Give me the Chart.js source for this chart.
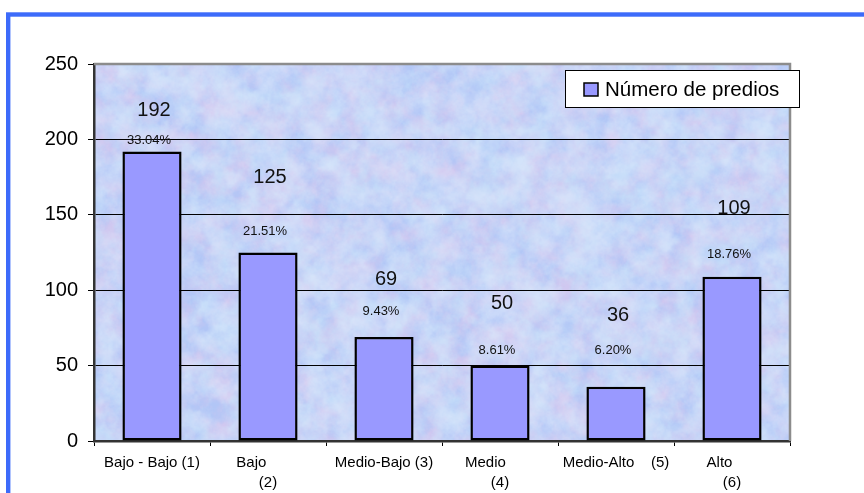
<!DOCTYPE html>
<html>
<head>
<meta charset="utf-8">
<script src="https://cdn.jsdelivr.net/npm/chart.js@4"></script>
<style>
  body { margin: 0; background: #fff; }
  #wrap { width: 864px; height: 493px; }
</style>
</head>
<body>
<div id="wrap"><canvas id="chart" width="864" height="493"></canvas></div>
<script>
// data
const categories = [
  "Bajo - Bajo (1)",
  ["Bajo        ", "(2)"],
  "Medio-Bajo (3)",
  ["Medio       ", "(4)"],
  "Medio-Alto    (5)",
  ["Alto      ", "(6)"]
];
const predios = [192, 125, 69, 50, 36, 109];
const percentLabels = ["33.04%", "21.51%", "9.43%", "8.61%", "6.20%", "18.76%"];
const yTicks = [0, 50, 100, 150, 200, 250];

// where the hand-placed labels sit, in axis units
const valueLabelY = [219, 175, 107, 91, 83, 154];
const pctLabelY = [199, 139, 86, 60, 60, 124];

const FONT = "'Liberation Sans', Arial, sans-serif";

// pastel marble texture for the plot area
function hash(x, y) {
  const h = Math.sin(x * 127.1 + y * 311.7) * 43758.5453;
  return h - Math.floor(h);
}
function vnoise(x, y) {
  const xi = Math.floor(x), yi = Math.floor(y);
  const xf = x - xi, yf = y - yi;
  const u = xf * xf * (3 - 2 * xf), v = yf * yf * (3 - 2 * yf);
  const a = hash(xi, yi), b = hash(xi + 1, yi);
  const c = hash(xi, yi + 1), d = hash(xi + 1, yi + 1);
  return a + (b - a) * u + (c - a) * v + (a - b - c + d) * u * v;
}
function fbm(x, y, seed) {
  let s = 0, amp = 0.5, f = 1 / 16;
  for (let o = 0; o < 4; o++) {
    s += amp * vnoise(x * f + seed, y * f - seed);
    amp *= 0.55; f *= 2.2;
  }
  return s / 0.95;
}
let texture = null;
function makeTexture(w, h) {
  const c = document.createElement("canvas");
  c.width = w; c.height = h;
  const g = c.getContext("2d");
  const img = g.createImageData(w, h);
  const blue = [178, 198, 246], pink = [216, 200, 238], cyan = [200, 230, 250], light = [226, 236, 252];
  for (let y = 0; y < h; y++) {
    for (let x = 0; x < w; x++) {
      const t1 = Math.min(1, Math.max(0, (fbm(x, y, 3.7) - 0.3) * 1.8));
      const t2 = Math.min(1, Math.max(0, (fbm(x, y, 17.3) - 0.3) * 1.8));
      const t3 = Math.min(1, Math.max(0, (fbm(x, y, 41.1) - 0.35) * 2));
      const i = (y * w + x) * 4;
      for (let k = 0; k < 3; k++) {
        let col = blue[k] + (pink[k] - blue[k]) * t1 * 0.8;
        col = col + (cyan[k] - col) * t3 * 0.6;
        col = col + (light[k] - col) * t2 * 0.5;
        img.data[i + k] = col;
      }
      img.data[i + 3] = 255;
    }
  }
  g.putImageData(img, 0, 0);
  return c;
}

const backdrop = {
  id: "backdrop",
  beforeDraw(chart) {
    const ctx = chart.ctx;
    const a = chart.chartArea;
    ctx.save();
    ctx.fillStyle = "#fff";
    ctx.fillRect(0, 0, chart.width, chart.height);
    // blue frame
    ctx.strokeStyle = "#3d6bfa";
    ctx.lineWidth = 4.4;
    ctx.strokeRect(8.2, 14.5, chart.width + 20, chart.height + 20);
    if (!texture) texture = makeTexture(Math.round(a.width), Math.round(a.height));
    ctx.drawImage(texture, a.left, a.top, a.width, a.height);
    ctx.restore();
  },
  afterDraw(chart) {
    const ctx = chart.ctx;
    const a = chart.chartArea;
    ctx.save();
    // top and right edge of plot area
    ctx.strokeStyle = "#8c8c8c";
    ctx.lineWidth = 2.5;
    ctx.beginPath();
    ctx.moveTo(a.left, a.top);
    ctx.lineTo(a.right, a.top);
    ctx.lineTo(a.right, a.bottom);
    ctx.stroke();
    // legend box
    const bx = a.right - 225, by = a.top + 6, bw = 234, bh = 37;
    ctx.fillStyle = "#fff";
    ctx.fillRect(bx, by, bw, bh);
    ctx.strokeStyle = "#000";
    ctx.lineWidth = 1;
    ctx.strokeRect(bx + 0.5, by + 0.5, bw, bh);
    ctx.fillStyle = "#9999ff";
    ctx.fillRect(bx + 19, by + 13, 14, 13);
    ctx.lineWidth = 1.5;
    ctx.strokeRect(bx + 19, by + 13, 14, 13);
    ctx.fillStyle = "#000";
    ctx.font = "20.5px " + FONT;
    ctx.textAlign = "left";
    ctx.textBaseline = "middle";
    ctx.fillText("Número de predios", bx + 40, by + 20);
    ctx.restore();
  },
  afterDatasetsDraw(chart) {
    const ctx = chart.ctx;
    const xs = chart.scales.x, ys = chart.scales.y;
    ctx.save();
    ctx.fillStyle = "#111";
    ctx.textAlign = "center";
    ctx.textBaseline = "middle";
    predios.forEach((v, i) => {
      const x = xs.getPixelForValue(i);
      ctx.font = "20px " + FONT;
      ctx.fillText(String(v), x + 2, ys.getPixelForValue(valueLabelY[i]));
      ctx.font = "13px " + FONT;
      ctx.fillText(percentLabels[i], x - 3, ys.getPixelForValue(pctLabelY[i]));
    });
    ctx.restore();
  }
};

new Chart(document.getElementById("chart"), {
  type: "bar",
  data: {
    labels: categories,
    datasets: [{
      label: "Número de predios",
      data: predios,
      backgroundColor: "#9999ff",
      borderColor: "#000",
      borderWidth: 2.5,
      borderSkipped: false,
      categoryPercentage: 1,
      barPercentage: 0.51
    }]
  },
  options: {
    responsive: false,
    animation: false,
    layout: { padding: { top: 64, right: 74, left: 0, bottom: 0 } },
    plugins: {
      legend: { display: false },
      tooltip: { enabled: false }
    },
    scales: {
      x: {
        afterFit(scale) { scale.height = 52; },
        grid: { drawOnChartArea: false, drawTicks: true, tickLength: 5, color: "#000" },
        border: { color: "#333", width: 2.5 },
        ticks: {
          color: "#000",
          padding: 7,
          maxRotation: 0,
          autoSkip: false,
          font: { family: FONT, size: 15, lineHeight: 1.33 }
        }
      },
      y: {
        min: 0,
        max: 250,
        afterFit(scale) { scale.width = 94; },
        afterBuildTicks(scale) { scale.ticks = yTicks.map(v => ({ value: v })); },
        grid: {
          tickLength: 6,
          tickColor: "#000",
          lineWidth: 1,
          color: c => (c.tick && (c.tick.value === 0 || c.tick.value === 250)) ? "rgba(0,0,0,0)" : "#000"
        },
        border: { color: "#333", width: 2.5 },
        ticks: {
          color: "#000",
          padding: 10,
          font: { family: FONT, size: 20 }
        }
      }
    }
  },
  plugins: [backdrop]
});
</script>
</body>
</html>
